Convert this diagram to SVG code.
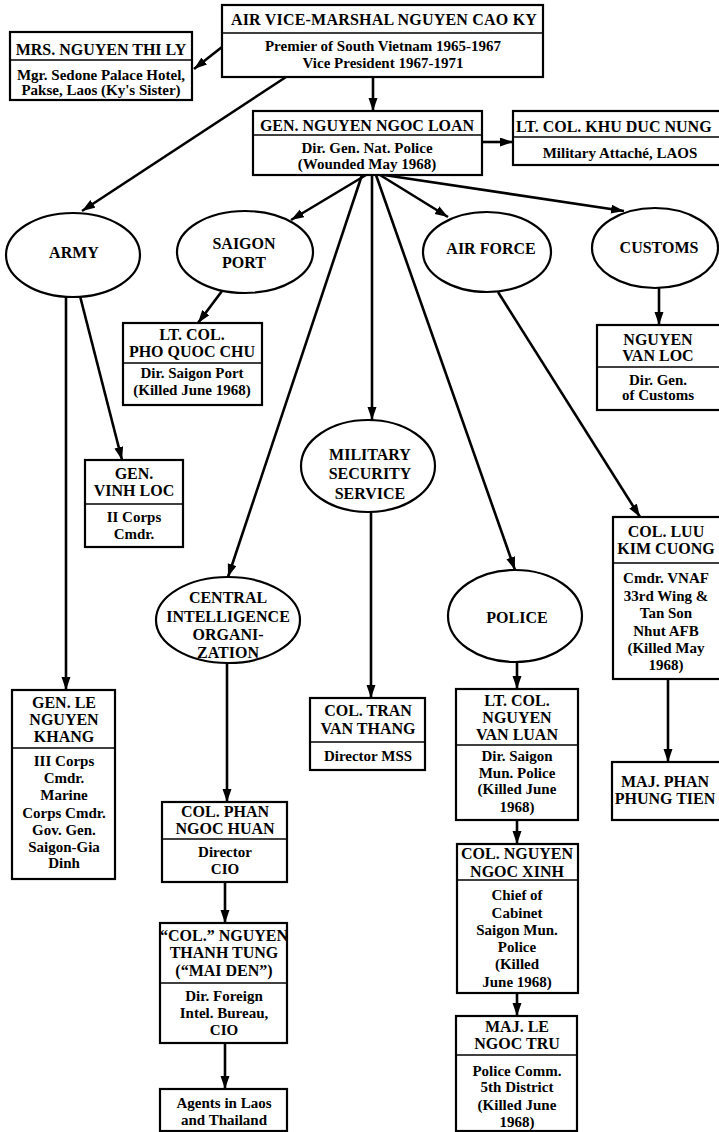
<svg xmlns="http://www.w3.org/2000/svg" width="719" height="1132" viewBox="0 0 719 1132">
<defs>
<marker id="ah" markerUnits="userSpaceOnUse" markerWidth="14" markerHeight="10" refX="13" refY="4.5" orient="auto">
<path d="M0,0 L13,4.5 L0,9 z" fill="#000"/>
</marker>
<style>
.box{fill:#fff;stroke:#000;stroke-width:2.2}
.ell{fill:#fff;stroke:#000;stroke-width:2.2}
.div{stroke:#000;stroke-width:1.3}
.t{font-family:"Liberation Serif",serif;font-weight:bold;font-size:16px;text-anchor:middle;fill:#000}
.b{font-family:"Liberation Serif",serif;font-weight:bold;font-size:15px;text-anchor:middle;fill:#000}
.c{stroke:#000;stroke-width:2.6;fill:none;marker-end:url(#ah)}
</style>
</defs>
<rect width="719" height="1132" fill="#fff"/>

<g id="connectors">
<path class="c" d="M222,47 L194,69"/>
<path class="c" d="M373,77 L373,111"/>
<path class="c" d="M286,77 L82,211"/>
<path class="c" d="M482,142 L513,142"/>
<path class="c" d="M366,175 L291,220"/>
<path class="c" d="M362,175 L228,577"/>
<path class="c" d="M372,175 L372,420"/>
<path class="c" d="M376,175 L515,570"/>
<path class="c" d="M380,175 L448,217"/>
<path class="c" d="M384,175 L624,211"/>
<path class="c" d="M66,297 L66,690"/>
<path class="c" d="M80,296 L122,460"/>
<path class="c" d="M222,291 L198,323"/>
<path class="c" d="M659,288 L659,325"/>
<path class="c" d="M498,292 L640,517"/>
<path class="c" d="M227,663 L227,802"/>
<path class="c" d="M225,882 L225,923"/>
<path class="c" d="M225,1043 L225,1089"/>
<path class="c" d="M371,512 L371,698"/>
<path class="c" d="M517,662 L517,689"/>
<path class="c" d="M517,820 L517,844"/>
<path class="c" d="M517,993 L517,1016"/>
<path class="c" d="M668,679 L668,762"/>
</g>

<g id="ky">
<rect class="box" x="222" y="5" width="321" height="72"/>
<line class="div" x1="222" y1="33" x2="543" y2="33"/>
<text class="t" x="384" y="25" style="letter-spacing:0.2px">AIR VICE-MARSHAL NGUYEN CAO KY</text>
<text class="b" x="383" y="51">Premier of South Vietnam 1965-1967</text>
<text class="b" x="383" y="68">Vice President 1967-1971</text>
</g>

<g id="mrs-ly">
<rect class="box" x="10" y="32" width="182" height="68"/>
<line class="div" x1="10" y1="60" x2="192" y2="60"/>
<text class="t" x="101" y="55">MRS. NGUYEN THI LY</text>
<text class="b" x="101" y="80">Mgr. Sedone Palace Hotel,</text>
<text class="b" x="101" y="95">Pakse, Laos (Ky's Sister)</text>
</g>

<g id="loan">
<rect class="box" x="253" y="111" width="229" height="64"/>
<line class="div" x1="253" y1="135" x2="482" y2="135"/>
<text class="t" x="367" y="131">GEN. NGUYEN NGOC LOAN</text>
<text class="b" x="367" y="153">Dir. Gen. Nat. Police</text>
<text class="b" x="367" y="169">(Wounded May 1968)</text>
</g>

<g id="khu">
<rect class="box" x="513" y="111" width="210" height="54"/>
<line class="div" x1="513" y1="137" x2="723" y2="137"/>
<text class="t" x="516" y="132" style="text-anchor:start">LT. COL. KHU DUC NUNG</text>
<text class="b" x="620" y="158">Military Attaché, LAOS</text>
</g>

<g id="army">
<ellipse class="ell" cx="73" cy="255" rx="67" ry="42"/>
<text class="t" x="74" y="258">ARMY</text>
</g>

<g id="saigon-port">
<ellipse class="ell" cx="245" cy="252" rx="68" ry="41"/>
<text class="t" x="244" y="249">SAIGON</text>
<text class="t" x="244" y="268">PORT</text>
</g>

<g id="air-force">
<ellipse class="ell" cx="487" cy="252" rx="64" ry="40"/>
<text class="t" x="491" y="254">AIR FORCE</text>
</g>

<g id="customs">
<ellipse class="ell" cx="655" cy="248" rx="63" ry="40"/>
<text class="t" x="659" y="253">CUSTOMS</text>
</g>

<g id="pho-quoc-chu">
<rect class="box" x="123" y="323" width="139" height="82"/>
<line class="div" x1="123" y1="363" x2="262" y2="363"/>
<text class="t" x="192" y="340">LT. COL.</text>
<text class="t" x="192" y="357">PHO QUOC CHU</text>
<text class="b" x="192" y="378">Dir. Saigon Port</text>
<text class="b" x="192" y="395">(Killed June 1968)</text>
</g>

<g id="nguyen-van-loc">
<rect class="box" x="597" y="325" width="124" height="85"/>
<line class="div" x1="597" y1="367" x2="721" y2="367"/>
<text class="t" x="658" y="345">NGUYEN</text>
<text class="t" x="658" y="361">VAN LOC</text>
<text class="b" x="658" y="385">Dir. Gen.</text>
<text class="b" x="658" y="400">of Customs</text>
</g>

<g id="vinh-loc">
<rect class="box" x="85" y="460" width="98" height="87"/>
<line class="div" x1="85" y1="504" x2="183" y2="504"/>
<text class="t" x="134" y="479">GEN.</text>
<text class="t" x="134" y="496">VINH LOC</text>
<text class="b" x="134" y="522">II Corps</text>
<text class="b" x="134" y="539">Cmdr.</text>
</g>

<g id="mss">
<ellipse class="ell" cx="368" cy="466" rx="67" ry="46"/>
<text class="t" x="370" y="460">MILITARY</text>
<text class="t" x="370" y="479">SECURITY</text>
<text class="t" x="370" y="499">SERVICE</text>
</g>

<g id="cuong">
<rect class="box" x="613" y="517" width="110" height="162"/>
<line class="div" x1="613" y1="563" x2="723" y2="563"/>
<text class="t" x="666" y="537">COL. LUU</text>
<text class="t" x="666" y="554">KIM CUONG</text>
<text class="b" x="666" y="583">Cmdr. VNAF</text>
<text class="b" x="666" y="601">33rd Wing &amp;</text>
<text class="b" x="666" y="618">Tan Son</text>
<text class="b" x="666" y="636">Nhut AFB</text>
<text class="b" x="666" y="653">(Killed May</text>
<text class="b" x="666" y="670">1968)</text>
</g>

<g id="cio">
<ellipse class="ell" cx="228" cy="620" rx="72" ry="43"/>
<text class="t" x="228" y="603">CENTRAL</text>
<text class="t" x="228" y="622">INTELLIGENCE</text>
<text class="t" x="228" y="640">ORGANI-</text>
<text class="t" x="228" y="658">ZATION</text>
</g>

<g id="police">
<ellipse class="ell" cx="515" cy="616" rx="67" ry="46"/>
<text class="t" x="517" y="623">POLICE</text>
</g>

<g id="khang">
<rect class="box" x="12" y="690" width="103" height="189"/>
<line class="div" x1="12" y1="748" x2="115" y2="748"/>
<text class="t" x="64" y="708">GEN. LE</text>
<text class="t" x="64" y="725">NGUYEN</text>
<text class="t" x="64" y="742">KHANG</text>
<text class="b" x="64" y="766">III Corps</text>
<text class="b" x="64" y="783">Cmdr.</text>
<text class="b" x="64" y="800">Marine</text>
<text class="b" x="64" y="818">Corps Cmdr.</text>
<text class="b" x="64" y="835">Gov. Gen.</text>
<text class="b" x="64" y="852">Saigon-Gia</text>
<text class="b" x="64" y="868">Dinh</text>
</g>

<g id="thang">
<rect class="box" x="310" y="698" width="115" height="72"/>
<line class="div" x1="310" y1="742" x2="425" y2="742"/>
<text class="t" x="368" y="716">COL. TRAN</text>
<text class="t" x="368" y="734">VAN THANG</text>
<text class="b" x="368" y="761">Director MSS</text>
</g>

<g id="luan">
<rect class="box" x="456" y="689" width="122" height="131"/>
<line class="div" x1="456" y1="745" x2="578" y2="745"/>
<text class="t" x="517" y="706">LT. COL.</text>
<text class="t" x="517" y="723">NGUYEN</text>
<text class="t" x="517" y="740">VAN LUAN</text>
<text class="b" x="517" y="761">Dir. Saigon</text>
<text class="b" x="517" y="778">Mun. Police</text>
<text class="b" x="517" y="794">(Killed June</text>
<text class="b" x="517" y="812">1968)</text>
</g>

<g id="tien">
<rect class="box" x="612" y="762" width="111" height="58"/>
<text class="t" x="665" y="787">MAJ. PHAN</text>
<text class="t" x="665" y="804">PHUNG TIEN</text>
</g>

<g id="huan">
<rect class="box" x="162" y="802" width="125" height="80"/>
<line class="div" x1="162" y1="839" x2="287" y2="839"/>
<text class="t" x="225" y="817">COL. PHAN</text>
<text class="t" x="225" y="834">NGOC HUAN</text>
<text class="b" x="225" y="857">Director</text>
<text class="b" x="225" y="874">CIO</text>
</g>

<g id="xinh">
<rect class="box" x="457" y="844" width="121" height="149"/>
<line class="div" x1="457" y1="880" x2="578" y2="880"/>
<text class="t" x="517" y="859">COL. NGUYEN</text>
<text class="t" x="517" y="877">NGOC XINH</text>
<text class="b" x="517" y="900">Chief of</text>
<text class="b" x="517" y="918">Cabinet</text>
<text class="b" x="517" y="935">Saigon Mun.</text>
<text class="b" x="517" y="952">Police</text>
<text class="b" x="517" y="969">(Killed</text>
<text class="b" x="517" y="987">June 1968)</text>
</g>

<g id="tung">
<rect class="box" x="160" y="923" width="127" height="120"/>
<line class="div" x1="160" y1="983" x2="287" y2="983"/>
<text class="t" x="224" y="941">“COL.” NGUYEN</text>
<text class="t" x="224" y="958">THANH TUNG</text>
<text class="t" x="224" y="976">(“MAI DEN”)</text>
<text class="b" x="224" y="1001">Dir. Foreign</text>
<text class="b" x="224" y="1018">Intel. Bureau,</text>
<text class="b" x="224" y="1035">CIO</text>
</g>

<g id="tru">
<rect class="box" x="456" y="1016" width="121" height="115"/>
<line class="div" x1="456" y1="1055" x2="577" y2="1055"/>
<text class="t" x="517" y="1032">MAJ. LE</text>
<text class="t" x="517" y="1049">NGOC TRU</text>
<text class="b" x="517" y="1076">Police Comm.</text>
<text class="b" x="517" y="1092">5th District</text>
<text class="b" x="517" y="1110">(Killed June</text>
<text class="b" x="517" y="1127">1968)</text>
</g>

<g id="agents">
<rect class="box" x="160" y="1089" width="127" height="42"/>
<text class="b" x="224" y="1108">Agents in Laos</text>
<text class="b" x="224" y="1125">and Thailand</text>
</g>
</svg>
